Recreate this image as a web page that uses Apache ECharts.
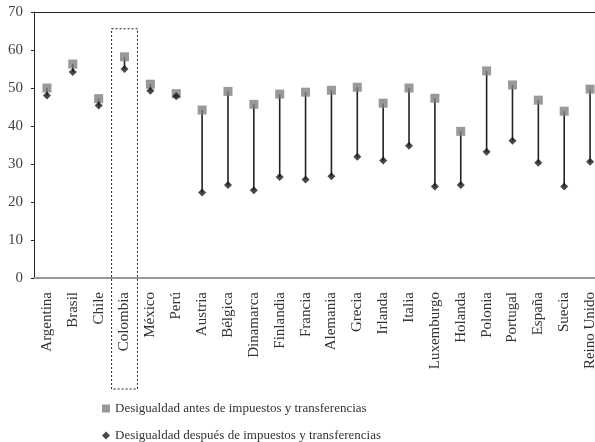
<!DOCTYPE html>
<html><head><meta charset="utf-8">
<script src="https://cdn.jsdelivr.net/npm/echarts@6/dist/echarts.min.js"></script>
<style>html,body{margin:0;padding:0;background:#fff}#c{width:595px;height:442px}</style>
</head><body><div id="c"></div>
<script>
var categories = ['Argentina','Brasil','Chile','Colombia','México','Perú','Austria','Bélgica','Dinamarca','Finlandia','Francia','Alemania','Grecia','Irlanda','Italia','Luxemburgo','Holanda','Polonia','Portugal','España','Suecia','Reino Unido'];
var antes = [50.0,56.3,47.2,58.2,51.0,48.5,44.2,49.1,45.7,48.4,48.9,49.4,50.2,46.0,50.0,47.3,38.6,54.5,50.8,46.8,43.9,49.7];
var despues = [48.0,54.2,45.4,55.0,49.3,47.8,22.5,24.5,23.1,26.6,25.9,26.8,31.9,30.9,34.8,24.1,24.5,33.2,36.1,30.3,24.1,30.6];
var yTicks = [0,10,20,30,40,50,60,70];
var seriesNames = ['Desigualdad antes de impuestos y transferencias','Desigualdad después de impuestos y transferencias'];
var highlight = 'Colombia';
var highlightTop = 65.6;

var font = 'Liberation Serif';
var chart = echarts.init(document.getElementById('c'));
var rangeData = categories.map(function(c,i){return [i, antes[i], despues[i]];});
var legendText = {fontFamily:font, fontSize:13, color:'#333'};
chart.setOption({
  animation:false,
  grid:{left:34, top:12, width:569, height:266, show:false, containLabel:false, outerBoundsMode:'none'},
  xAxis:[{type:'category', data:categories, boundaryGap:true,
    axisLine:{show:true, lineStyle:{color:'#999', width:2}},
    axisTick:{show:false},
    axisLabel:{rotate:90, interval:0, margin:14, fontFamily:font, fontSize:15, color:'#333'}},
   {type:'category', data:categories, position:'top',
    axisLine:{show:true, lineStyle:{color:'#222', width:1}},
    axisTick:{show:false}, axisLabel:{show:false}}],
  yAxis:{type:'value', min:0, max:70, interval:10,
    axisLine:{show:true, lineStyle:{color:'#222', width:1}},
    axisTick:{show:true, length:3, lineStyle:{color:'#222'}},
    splitLine:{show:false},
    axisLabel:{margin:11, fontFamily:font, fontSize:15, color:'#444'}},
  legend:[
    {left:97, top:397, itemWidth:8, itemHeight:8, textStyle:legendText,
     data:[{name:seriesNames[0], icon:'rect'}]},
    {left:97, top:424, itemWidth:8, itemHeight:8, textStyle:legendText,
     data:[{name:seriesNames[1], icon:'diamond'}]}],
  series:[
    {type:'custom', name:'rango', silent:true, z:1, data:rangeData,
     encode:{x:0, y:[1,2]},
     renderItem:function(params, api){
       var p1 = api.coord([api.value(0), api.value(1)]);
       var p2 = api.coord([api.value(0), api.value(2)]);
       return {type:'line', shape:{x1:p1[0], y1:p1[1], x2:p2[0], y2:p2[1]}, style:{stroke:'#222', lineWidth:1.6}};
     }},
    {type:'scatter', name:seriesNames[0], data:antes, symbol:'rect', symbolSize:9, z:3, itemStyle:{color:'#808080'}},
    {type:'scatter', name:seriesNames[1], data:despues, symbol:'diamond', symbolSize:8, z:4, itemStyle:{color:'#1a1a1a'}}
  ]
});
var cx = chart.convertToPixel({xAxisIndex:0}, highlight);
var c0 = chart.convertToPixel({xAxisIndex:0}, categories[0]);
var c1 = chart.convertToPixel({xAxisIndex:0}, categories[1]);
var bw = c1 - c0;
var ty = chart.convertToPixel({yAxisIndex:0}, highlightTop);
chart.setOption({graphic:[{type:'rect', shape:{x:cx-bw/2, y:ty, width:bw, height:389-ty},
  style:{fill:'none', stroke:'#222', lineWidth:1, lineDash:[2,2]}, z:10}]});
</script></body></html>
